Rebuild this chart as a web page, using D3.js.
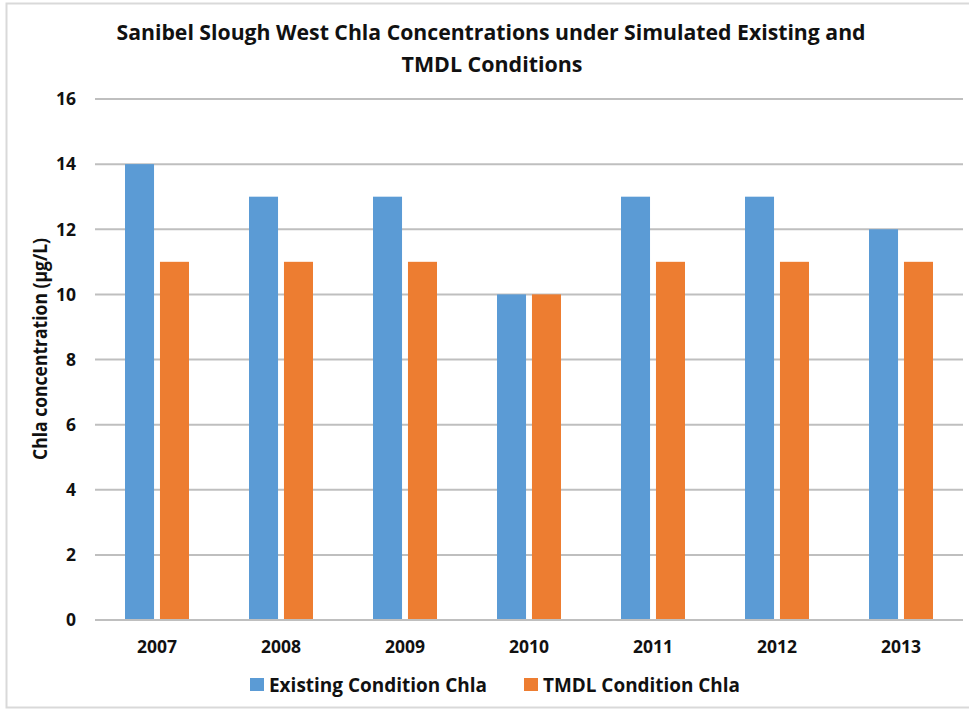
<!DOCTYPE html>
<html>
<head>
<meta charset="utf-8">
<script src="https://cdn.jsdelivr.net/npm/d3@7"></script>
<style>
  html, body { margin: 0; padding: 0; background: #fff; }
  svg { display: block; font-family: "Open Sans", "Noto Sans", sans-serif; }
</style>
</head>
<body>
<svg id="chart" width="969" height="710"></svg>
<script>
// Annual mean Chla (µg/L) for Sanibel Slough West
const years = ["2007", "2008", "2009", "2010", "2011", "2012", "2013"];
const existingChla = [14, 13, 13, 10, 13, 13, 12];
const tmdlChla = [11, 11, 11, 10, 11, 11, 11];
const seriesNames = ["Existing Condition Chla", "TMDL Condition Chla"];
const seriesColors = ["#5B9BD5", "#ED7D31"];
const yTicks = [0, 2, 4, 6, 8, 10, 12, 14, 16];

const svg = d3.select("#chart");
const W = 969, H = 710;
const margin = { left: 95, right: 6, top: 99, bottom: 90 };

// chart frame
svg.append("rect")
  .attr("x", 6.5).attr("y", 3.5)
  .attr("width", W + 10).attr("height", 704)
  .attr("fill", "#fff").attr("stroke", "#d9d9d9").attr("stroke-width", 2);

const x = d3.scaleBand()
  .domain(years)
  .range([margin.left, W - margin.right])
  .paddingInner(0).paddingOuter(0);

const y = d3.scaleLinear()
  .domain([0, 16])
  .range([H - margin.bottom, margin.top]);

// gridlines
svg.append("g")
  .selectAll("line")
  .data(yTicks)
  .join("line")
  .attr("x1", margin.left).attr("x2", W - margin.right)
  .attr("y1", d => y(d)).attr("y2", d => y(d))
  .attr("stroke", "#bfbfbf").attr("stroke-width", 2);

// y tick labels
svg.append("g")
  .selectAll("text")
  .data(yTicks)
  .join("text")
  .attr("x", 76).attr("y", d => y(d))
  .attr("dy", "0.36em")
  .attr("text-anchor", "end")
  .attr("font-size", 17.5).attr("font-weight", 700)
  .attr("fill", "#111")
  .text(d => d);

// grouped bars
const groupWidth = x.bandwidth() * 0.516;
const sub = d3.scaleBand()
  .domain([0, 1])
  .range([-groupWidth / 2, groupWidth / 2])
  .paddingInner(0.17);

const series = [existingChla, tmdlChla];
series.forEach((vals, si) => {
  svg.append("g")
    .selectAll("rect")
    .data(years)
    .join("rect")
    .attr("x", (d) => x(d) + x.bandwidth() / 2 + sub(si))
    .attr("width", sub.bandwidth())
    .attr("y", (d, i) => y(vals[i]))
    .attr("height", (d, i) => y(0) - y(vals[i]))
    .attr("fill", seriesColors[si]);
});

// baseline
svg.append("line")
  .attr("x1", margin.left).attr("x2", W - margin.right)
  .attr("y1", y(0)).attr("y2", y(0))
  .attr("stroke", "#bfbfbf").attr("stroke-width", 2);

// x category labels
svg.append("g")
  .selectAll("text")
  .data(years)
  .join("text")
  .attr("x", d => x(d) + x.bandwidth() / 2)
  .attr("y", 653)
  .attr("text-anchor", "middle")
  .attr("font-size", 17.5).attr("font-weight", 700)
  .attr("fill", "#111")
  .text(d => d);

// y axis title
svg.append("text")
  .attr("transform", "translate(47,349) rotate(-90)")
  .attr("text-anchor", "middle")
  .attr("font-size", 19).attr("font-weight", 700)
  .attr("fill", "#111")
  .attr("textLength", 222).attr("lengthAdjust", "spacingAndGlyphs")
  .text("Chla concentration (µg/L)");

// title
svg.append("text")
  .attr("x", 491).attr("y", 40)
  .attr("text-anchor", "middle")
  .attr("font-size", 22).attr("font-weight", 700)
  .attr("fill", "#111")
  .attr("textLength", 749).attr("lengthAdjust", "spacingAndGlyphs")
  .text("Sanibel Slough West Chla Concentrations under Simulated Existing and");
svg.append("text")
  .attr("x", 492).attr("y", 72)
  .attr("text-anchor", "middle")
  .attr("font-size", 22).attr("font-weight", 700)
  .attr("fill", "#111")
  .attr("textLength", 181).attr("lengthAdjust", "spacingAndGlyphs")
  .text("TMDL Conditions");

// legend
const legendItems = [
  { name: seriesNames[0], color: seriesColors[0], x: 250, w: 218 },
  { name: seriesNames[1], color: seriesColors[1], x: 524, w: 197 }
];
const lg = svg.append("g");
legendItems.forEach(item => {
  lg.append("rect")
    .attr("x", item.x).attr("y", 678)
    .attr("width", 14).attr("height", 13)
    .attr("fill", item.color);
  lg.append("text")
    .attr("x", item.x + 19).attr("y", 692)
    .attr("font-size", 19).attr("font-weight", 700)
    .attr("fill", "#111")
    .attr("textLength", item.w).attr("lengthAdjust", "spacingAndGlyphs")
    .text(item.name);
});
</script>
</body>
</html>
